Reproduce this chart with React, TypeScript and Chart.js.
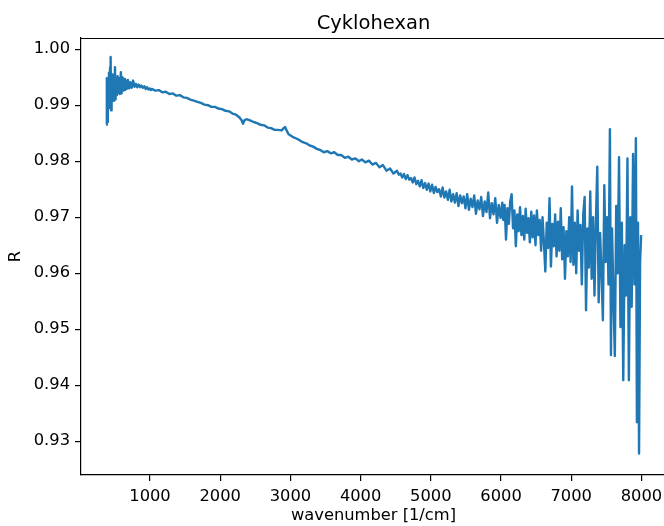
import React, { useEffect, useRef } from "react";
import { Chart, registerables } from "chart.js";
Chart.register(...registerables);

const chartTitle = "Cyklohexan";
const xTitle = "wavenumber [1/cm]";
const yTitle = "R";

const xTickValues = [1000, 2000, 3000, 4000, 5000, 6000, 7000, 8000];
const yTickValues = [0.93, 0.94, 0.95, 0.96, 0.97, 0.98, 0.99, 1.0];

const wavenumbers = [
  379, 385, 391, 399, 407, 415, 423, 431, 439, 445, 453, 461, 469, 477, 485, 493, 501, 509, 519, 529,
  539, 549, 559, 571, 585, 595, 607, 619, 631, 643, 655, 669, 685, 701, 719, 739, 759, 779, 799, 819,
  839, 859, 879, 899, 919, 939, 959, 979, 999, 1014,
  1025, 1075, 1125, 1175, 1225, 1275, 1325, 1375, 1425, 1475, 1525, 1575, 1625, 1675, 1725, 1775,
  1825, 1875, 1925, 1975, 2025, 2075, 2125, 2175, 2225, 2275, 2305, 2325, 2345, 2375, 2425, 2475,
  2525, 2575, 2625, 2675, 2725, 2775, 2825, 2875, 2905, 2925, 2945, 2975, 3025, 3075, 3125, 3175,
  3225, 3275, 3325, 3375, 3425, 3475, 3525, 3575, 3625, 3675, 3725, 3775, 3825, 3875, 3925, 3975,
  4018, 4068, 4118, 4168, 4218, 4268, 4318, 4368, 4418, 4468, 4518, 4543, 4568, 4593, 4618, 4643,
  4668, 4693, 4718, 4743, 4768, 4793, 4818, 4843, 4868, 4893, 4918, 4943, 4968, 4993, 5018, 5043,
  5068, 5093, 5118, 5143, 5168, 5193, 5218, 5243, 5268, 5293, 5318, 5343, 5368, 5393, 5418, 5443,
  5468, 5493, 5518, 5543, 5568, 5593, 5618, 5643, 5668, 5693, 5718, 5743, 5768, 5793, 5818, 5843,
  5868, 5893, 5918, 5943, 5968, 5993, 6018,
  6031, 6051, 6071, 6091, 6111, 6131, 6151, 6171, 6191, 6211, 6231, 6251, 6271, 6291, 6311, 6331,
  6351, 6371, 6391, 6411, 6431, 6451, 6471, 6491, 6511, 6531, 6551, 6571, 6591, 6611, 6631, 6651,
  6671, 6691, 6711, 6731, 6751, 6771, 6791, 6811, 6831, 6851, 6871, 6891, 6911, 6931, 6951, 6971,
  6991, 7011, 7031, 7051, 7071, 7091, 7111, 7131, 7151, 7171, 7191, 7211, 7231, 7251, 7271, 7291,
  7311, 7331, 7351, 7371, 7391, 7411, 7431, 7451, 7471, 7491, 7511, 7531, 7551, 7566, 7581, 7601,
  7621, 7641, 7661, 7681, 7701, 7721, 7741, 7761, 7781, 7801, 7821, 7841, 7861, 7881, 7901, 7921,
  7936, 7951, 7966, 7981, 7996,
];

const reflectance = [
  0.9865, 0.9948, 0.987, 0.994, 0.9895, 0.9958, 0.9902, 0.9968, 0.9986, 0.9891, 0.994, 0.9915, 0.9955, 0.9908, 0.995, 0.9925, 0.9968, 0.991, 0.9945, 0.9918,
  0.9952, 0.9922, 0.9948, 0.992, 0.9959, 0.9921, 0.995, 0.9926, 0.9947, 0.9927, 0.9944, 0.9929, 0.9945, 0.993, 0.9941, 0.9931, 0.9944, 0.9933, 0.9938, 0.9932,
  0.9937, 0.9932, 0.9935, 0.9931, 0.9934, 0.9929, 0.9932, 0.9928, 0.993, 0.9927,
  0.9929, 0.9926, 0.9927, 0.9923, 0.9924, 0.992, 0.9921, 0.9917, 0.9918, 0.9914, 0.9913, 0.991, 0.9908, 0.9906, 0.9904, 0.9901,
  0.99, 0.9897, 0.9897, 0.9894, 0.9893, 0.989, 0.9889, 0.9885, 0.9883, 0.9878, 0.9873, 0.9867, 0.9873, 0.9875, 0.9873, 0.987,
  0.9868, 0.9865, 0.9864, 0.986, 0.9859, 0.9856, 0.9856, 0.9855, 0.9859, 0.9861, 0.9855, 0.9848, 0.9844, 0.9841, 0.9838, 0.9834,
  0.9832, 0.9828, 0.9826, 0.9822, 0.982, 0.9816, 0.9818, 0.9814, 0.9816, 0.9811, 0.9811, 0.9806, 0.9808, 0.9803, 0.9805, 0.98,
  0.9803, 0.9798, 0.9801, 0.9794, 0.9797, 0.9789, 0.9793, 0.9783, 0.9787, 0.9778, 0.9783, 0.9776, 0.9778, 0.9771, 0.9777, 0.9768,
  0.9775, 0.9767, 0.977, 0.9762, 0.9771, 0.9759, 0.9765, 0.9755, 0.9766, 0.9752, 0.9761, 0.9749, 0.976, 0.9746, 0.9758, 0.9743,
  0.9754, 0.9745, 0.975, 0.9737, 0.9753, 0.9735, 0.9746, 0.9731, 0.9749, 0.9728, 0.9741, 0.9726, 0.9743, 0.972, 0.9739, 0.9725,
  0.9737, 0.9716, 0.9741, 0.9713, 0.9733, 0.9718, 0.9739, 0.9706, 0.973, 0.9714, 0.9736, 0.9702, 0.9728, 0.9709, 0.9744, 0.9698,
  0.9725, 0.9705, 0.9734, 0.969, 0.9722, 0.9699, 0.9726,
  0.9695, 0.9722, 0.966, 0.9716, 0.9688, 0.9728, 0.9741, 0.968, 0.9712, 0.9648, 0.9705, 0.9675, 0.9718, 0.9668, 0.9702, 0.966,
  0.9715, 0.9672, 0.9698, 0.9655, 0.971, 0.9664, 0.9703, 0.965, 0.9712, 0.9668, 0.9695, 0.964, 0.97, 0.9655, 0.9603, 0.969,
  0.9645, 0.9734, 0.9612, 0.9688, 0.9648, 0.9705, 0.963, 0.9692, 0.964, 0.9716, 0.9625, 0.9682, 0.959, 0.9675, 0.963, 0.97,
  0.962, 0.9755, 0.9615, 0.969, 0.96, 0.9712, 0.964, 0.9686, 0.958, 0.9705, 0.9736, 0.9534, 0.968, 0.961, 0.9746, 0.959,
  0.97, 0.956, 0.969, 0.979, 0.9548, 0.9672, 0.96, 0.9516, 0.9757, 0.962, 0.97, 0.958, 0.9857, 0.9454, 0.968, 0.956,
  0.9452, 0.972, 0.96, 0.9807, 0.9504, 0.969, 0.9409, 0.965, 0.956, 0.9805, 0.9409, 0.97, 0.954, 0.9813, 0.958, 0.9841,
  0.9334, 0.969, 0.9278, 0.962, 0.9668,
];

const X_MIN = 17;
const X_MAX = 8350;
const Y_MIN = 0.92396;
const Y_MAX = 1.002;

export default function App() {
  const canvasRef = useRef<HTMLCanvasElement | null>(null);

  useEffect(() => {
    const canvas = canvasRef.current;
    if (!canvas) return;
    Chart.defaults.color = "#000";
    Chart.defaults.font.family = "'DejaVu Sans', sans-serif";

    const framePlugin = {
      id: "frame",
      afterDraw(chart: any) {
        const { ctx, chartArea: a } = chart;
        ctx.save();
        ctx.strokeStyle = "#000";
        ctx.lineWidth = 1.2;
        ctx.beginPath();
        const t = Math.round(a.top) + 0.5;
        ctx.moveTo(a.left, t);
        ctx.lineTo(a.right, t);
        ctx.stroke();
        ctx.font = "19.5px 'DejaVu Sans', sans-serif";
        ctx.fillStyle = "#000";
        ctx.textAlign = "center";
        ctx.textBaseline = "alphabetic";
        ctx.fillText(chartTitle, (a.left + a.right) / 2, a.top - 9.5);
        ctx.restore();
      },
    };

    const points = wavenumbers.map((x, i) => ({ x, y: reflectance[i] }));

    const chart = new Chart(canvas, {
      type: "line",
      data: {
        datasets: [
          {
            data: points,
            borderColor: "#1f77b4",
            borderWidth: 2.4,
            pointRadius: 0,
            tension: 0,
            fill: false,
            borderJoinStyle: "round",
            borderCapStyle: "butt",
          },
        ],
      },
      options: {
        animation: false,
        responsive: false,
        devicePixelRatio: 1,
        layout: { padding: { left: 0, right: 34, top: 38, bottom: 0 } },
        plugins: {
          legend: { display: false },
          tooltip: { enabled: false },
          title: { display: false },
        },
        scales: {
          x: {
            type: "linear",
            min: X_MIN,
            max: X_MAX,
            afterBuildTicks: (scale: any) => {
              scale.ticks = xTickValues.map((v) => ({ value: v }));
            },
            afterFit: (scale: any) => {
              scale.height = 51;
            },
            ticks: {
              font: { size: 16.3 },
              color: "#000",
              padding: 6,
              maxRotation: 0,
              autoSkip: false,
              callback: (v: any) => String(v),
            },
            grid: {
              display: true,
              drawOnChartArea: false,
              drawTicks: true,
              tickLength: 6,
              color: "#000",
              lineWidth: 1.2,
            },
            border: { display: true, color: "#000", width: 1.2 },
            title: {
              display: true,
              text: xTitle,
              color: "#000",
              font: { size: 16.3 },
              padding: { top: 0, bottom: 0 },
            },
          },
          y: {
            type: "linear",
            min: Y_MIN,
            max: Y_MAX,
            afterBuildTicks: (scale: any) => {
              scale.ticks = yTickValues.map((v) => ({ value: v }));
            },
            afterFit: (scale: any) => {
              scale.width = 81;
            },
            ticks: {
              font: { size: 16.3 },
              color: "#000",
              padding: 5,
              autoSkip: false,
              callback: (v: any) => Number(v).toFixed(2),
            },
            grid: {
              display: true,
              drawOnChartArea: false,
              drawTicks: true,
              tickLength: 6,
              color: "#000",
              lineWidth: 1.2,
            },
            border: { display: true, color: "#000", width: 1.2 },
            title: {
              display: true,
              text: yTitle,
              color: "#000",
              font: { size: 16.3 },
              padding: { top: 6, bottom: 0 },
            },
          },
        },
      },
      plugins: [framePlugin],
    } as any);

    return () => chart.destroy();
  }, []);

  return (
    <div
      style={{
        position: "fixed",
        left: 0,
        top: 0,
        width: 664,
        height: 526,
        overflow: "hidden",
        background: "#fff",
      }}
    >
      <canvas ref={canvasRef} width={700} height={526} style={{ width: 700, height: 526, display: "block" }} />
    </div>
  );
}
